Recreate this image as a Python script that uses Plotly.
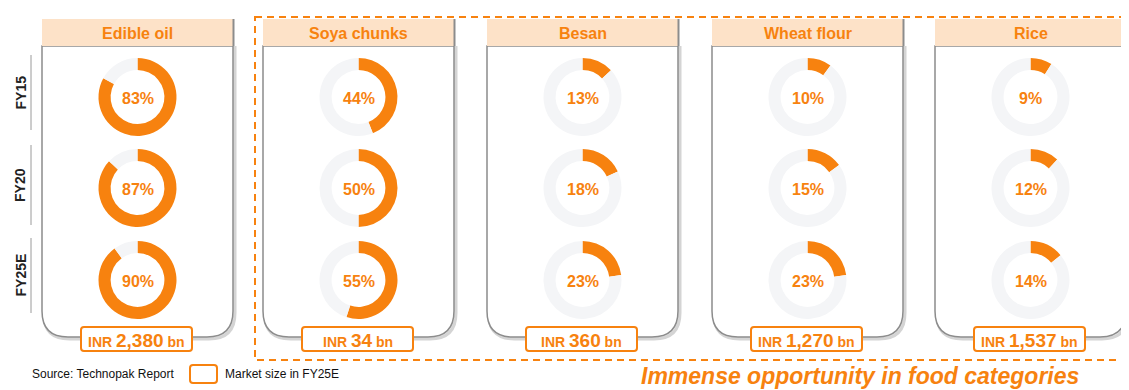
import plotly.graph_objects as go

W, H = 1129, 390
OFF = 8  # page body margin of the browser
FW, FH = W - OFF, H - OFF

categories = ["Edible oil", "Soya chunks", "Besan", "Wheat flour", "Rice"]
years = ["FY15", "FY20", "FY25E"]
edible_oil = [83, 87, 90]
soya_chunks = [44, 50, 55]
besan = [13, 18, 23]
wheat_flour = [10, 15, 23]
rice = [9, 12, 14]
market_size = ["2,380", "34", "360", "1,270", "1,537"]

shares = [edible_oil, soya_chunks, besan, wheat_flour, rice]

ORANGE = "#f7820f"
PEACH = "#fde2c8"
REST = "#f4f5f7"
FONT = "Arial, Liberation Sans, sans-serif"

panel_left = [42, 263, 487, 712, 935]
panel_w = 191
head_top, head_bot, box_bot = 19, 46, 337
row_cy = [97, 188, 280]
R = 39

fig = go.Figure()
shapes = []
annotations = []


def rounded_bottom_box(x0, x1, y0, y1, r):
    return (f"M {x0},{y0} L {x0},{y1 - r} Q {x0},{y1} {x0 + r},{y1} "
            f"L {x1 - r},{y1} Q {x1},{y1} {x1},{y1 - r} L {x1},{y0} Z")


def rounded_rect(x0, x1, y0, y1, r):
    return (f"M {x0 + r},{y0} L {x1 - r},{y0} Q {x1},{y0} {x1},{y0 + r} "
            f"L {x1},{y1 - r} Q {x1},{y1} {x1 - r},{y1} L {x0 + r},{y1} "
            f"Q {x0},{y1} {x0},{y1 - r} L {x0},{y0 + r} Q {x0},{y0} {x0 + r},{y0} Z")


# dashed outline round the four "food" categories
shapes.append(dict(type="rect", xref="x", yref="y", x0=255, x1=1126, y0=17, y1=360,
                   line=dict(color=ORANGE, width=2, dash="7px,5px"), fillcolor="rgba(0,0,0,0)",
                   layer="below"))

for i, cat in enumerate(categories):
    x0 = panel_left[i]
    x1 = x0 + panel_w
    cx = x0 + panel_w / 2
    # soft shadow
    shapes.append(dict(type="path", xref="x", yref="y",
                       path=rounded_bottom_box(x0 + 1.5, x1 + 2, head_bot + 1.5, box_bot + 2, 26),
                       line=dict(color="#d4d4d4", width=3), fillcolor="#e9e9e9", layer="below"))
    # box
    shapes.append(dict(type="path", xref="x", yref="y",
                       path=rounded_bottom_box(x0, x1, head_bot, box_bot, 26),
                       line=dict(color="#8c8c8c", width=1.5), fillcolor="white", layer="below"))
    # header
    shapes.append(dict(type="rect", xref="x", yref="y", x0=x0, x1=x1, y0=head_top, y1=head_bot,
                       line=dict(width=0), fillcolor=PEACH, layer="below"))
    shapes.append(dict(type="line", xref="x", yref="y", x0=x1 + 0.5, x1=x1 + 0.5, y0=head_top, y1=head_bot,
                       line=dict(color="#8c8c8c", width=2), layer="below"))
    annotations.append(dict(x=cx, y=(head_top + head_bot) / 2 + 1, xref="x", yref="y",
                            text=f"<b>{cat}</b>", showarrow=False,
                            font=dict(family=FONT, size=16, color=ORANGE)))
    # donuts
    for j, yr in enumerate(years):
        cy = row_cy[j]
        v = shares[i][j]
        fig.add_trace(go.Pie(
            values=[v, 100 - v], labels=["share", "rest"], sort=False,
            direction="clockwise", rotation=0, hole=0.69,
            marker=dict(colors=[ORANGE, REST], line=dict(width=0)),
            textinfo="none", hoverinfo="skip", showlegend=False,
            domain=dict(x=[(cx - R - OFF) / FW, (cx + R - OFF) / FW],
                        y=[1 - (cy + R - OFF) / FH, 1 - (cy - R - OFF) / FH])))
        annotations.append(dict(x=cx, y=cy + 1, xref="x", yref="y", text=f"<b>{v}%</b>",
                                showarrow=False, font=dict(family=FONT, size=16, color=ORANGE)))
    # market-size label
    lw = 111
    shapes.append(dict(type="path", xref="x", yref="y",
                       path=rounded_rect(cx - lw / 2 - 1, cx + lw / 2 - 1, 327, 351, 3),
                       line=dict(color=ORANGE, width=2), fillcolor="white", layer="below"))
    annotations.append(dict(x=cx - 1, y=340, xref="x", yref="y",
                            text=f"<b>INR <span style='font-size:19px'>{market_size[i]}</span> bn</b>",
                            showarrow=False, font=dict(family=FONT, size=14, color=ORANGE)))

# year labels and separators
seg = [(55, 130), (145, 225), (238, 313)]
for j, yr in enumerate(years):
    s0, s1 = seg[j]
    shapes.append(dict(type="line", xref="x", yref="y", x0=31, x1=31, y0=s0, y1=s1,
                       line=dict(color="#9a9a9a", width=1), layer="below"))
    annotations.append(dict(x=20, y=(s0 + s1) / 2, xref="x", yref="y", text=f"<b>{yr}</b>",
                            textangle=-90, showarrow=False,
                            font=dict(family=FONT, size=14, color="#222222")))

# footer
annotations.append(dict(x=30, y=374, xref="x", yref="y", xanchor="left", text="Source: Technopak Report",
                        showarrow=False, font=dict(family=FONT, size=12, color="#111111")))
shapes.append(dict(type="path", xref="x", yref="y", path=rounded_rect(190, 217, 365, 383, 3),
                   line=dict(color=ORANGE, width=2), fillcolor="white", layer="below"))
annotations.append(dict(x=223, y=374, xref="x", yref="y", xanchor="left", text="Market size in FY25E",
                        showarrow=False, font=dict(family=FONT, size=12, color="#111111")))
annotations.append(dict(x=860, y=376, xref="x", yref="y", text="<b><i>Immense opportunity in food categories</i></b>",
                        showarrow=False, font=dict(family=FONT, size=23, color=ORANGE)))

fig.update_layout(
    width=FW, height=FH, margin=dict(l=0, r=0, t=0, b=0),
    paper_bgcolor="white", plot_bgcolor="white",
    xaxis=dict(range=[OFF, W], visible=False, fixedrange=True),
    yaxis=dict(range=[H, OFF], visible=False, fixedrange=True),
    shapes=shapes, annotations=annotations,
)

fig.write_html("out.html")
